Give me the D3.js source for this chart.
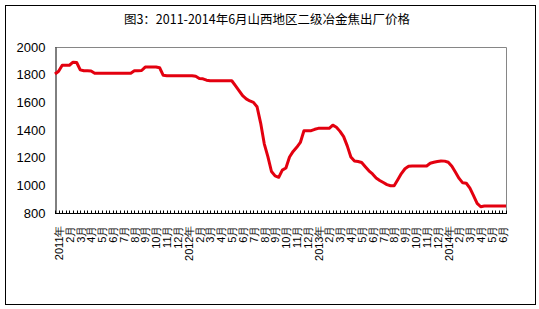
<!DOCTYPE html>
<html>
<head>
<meta charset="utf-8">
<script src="https://cdn.jsdelivr.net/npm/d3@7"></script>
<style>
body { margin: 0; background: #fff; }
text { font-family: "Liberation Sans", Arial, sans-serif; }
</style>
</head>
<body>
<svg width="539" height="309"></svg>
<script>
const title = "图3：2011-2014年6月山西地区二级冶金焦出厂价格";

// one label per month, the data has three points per month
const monthLabels = [
	"2011年","2月","3月","4月","5月","6月","7月","8月","9月","10月","11月","12月",
	"2012年","2月","3月","4月","5月","6月","7月","8月","9月","10月","11月","12月",
	"2013年","2月","3月","4月","5月","6月","7月","8月","9月","10月","11月","12月",
	"2014年","2月","3月","4月","5月","6月"
];

const prices = [
	1805,1825,1868,1868,1868,1890,1888,1835,1828,1828,1826,1810,
	1810,1810,1810,1810,1810,1810,1810,1810,1810,1810,
	1828,1828,1830,1855,1855,1855,1855,1850,1795,1792,
	1792,1792,1792,1792,1792,1792,1792,1788,1772,1770,
	1760,1756,1756,1756,1756,1756,1756,1756,1720,1685,
	1648,1625,1610,1600,1568,1450,1300,1207,1100,1068,
	1058,1110,1125,1205,1245,1275,1310,1395,1395,1395,
	1405,1412,1412,1412,1412,1435,1420,1390,1352,1285,
	1205,1176,1172,1165,1135,1105,1082,1053,1035,1020,
	1005,997,997,1040,1085,1120,1138,1140,1140,1140,
	1140,1140,1160,1167,1172,1176,1175,1167,1138,1095,
	1050,1018,1015,980,925,870,845,850,850,850,
	850,850,850,850
];

const yTicks = [800, 1000, 1200, 1400, 1600, 1800, 2000];

const svg = d3.select("svg");
const plotL = 55, plotR = 506, plotT = 47, plotB = 213;

// outer frame
svg.append("rect")
	.attr("x", 5.5).attr("y", 5.5)
	.attr("width", 530).attr("height", 299)
	.attr("fill", "none").attr("stroke", "#000");

svg.append("text")
	.attr("x", 267).attr("y", 24)
	.attr("text-anchor", "middle")
	.style("font-family", "'Noto Sans CJK SC', sans-serif")
	.style("font-size", "12.5px")
	.text(title);

const x = d3.scalePoint()
	.domain(d3.range(prices.length))
	.range([plotL, plotR]);

const y = d3.scaleLinear()
	.domain([800, 2000])
	.range([plotB, plotT]);

// plot frame, grey on top and right
svg.append("path")
	.attr("d", `M${plotL},${plotT + 0.5}H${plotR + 0.5}V${plotB}`)
	.attr("fill", "none").attr("stroke", "#868686");

// y axis
const yAxis = d3.axisLeft(y).tickValues(yTicks).tickFormat(d3.format("d")).tickSize(0).tickPadding(10);
svg.append("g")
	.attr("transform", `translate(${plotL + 0.5},0)`)
	.call(yAxis)
	.call(g => g.select(".domain").attr("stroke", "#000"))
	.call(g => g.selectAll("text").style("font-size", "13px").attr("fill", "#000"));

// x axis: tick per point, pointing up
const xg = svg.append("g").attr("transform", `translate(0,${plotB + 0.5})`);
xg.append("line")
	.attr("x1", plotL).attr("x2", plotR + 1)
	.attr("stroke", "#000");
xg.selectAll("line.tk")
	.data(x.domain())
	.enter().append("line")
	.attr("class", "tk")
	.attr("x1", d => Math.round(x(d)) + 0.5)
	.attr("x2", d => Math.round(x(d)) + 0.5)
	.attr("y1", 0).attr("y2", -3)
	.attr("stroke", "#000");

xg.selectAll("text")
	.data(monthLabels)
	.enter().append("text")
	.attr("transform", (d, i) => `translate(${x(i * 3) + 4},12) rotate(-90)`)
	.attr("text-anchor", "end")
	.attr("dy", "0.35em")
	.style("font-size", "11px")
	.text(d => d);

// price line
const line = d3.line()
	.x((d, i) => x(i))
	.y(d => y(d));

svg.append("path")
	.datum(prices)
	.attr("d", line)
	.attr("fill", "none")
	.attr("stroke", "#e3000f")
	.attr("stroke-width", 3)
	.attr("stroke-linejoin", "round");
</script>
</body>
</html>
